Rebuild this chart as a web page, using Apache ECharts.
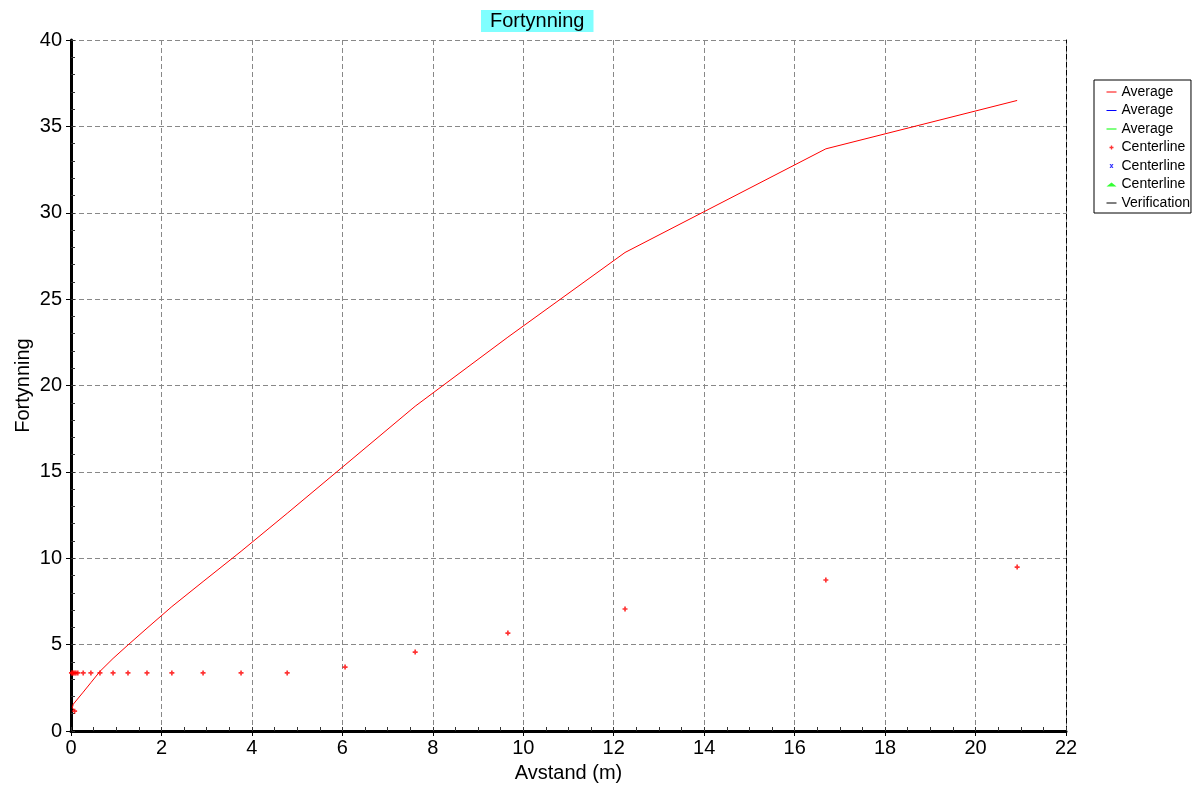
<!DOCTYPE html>
<html>
<head>
<meta charset="utf-8">
<script src="https://cdn.jsdelivr.net/npm/echarts@6/dist/echarts.min.js"></script>
<style>html,body{margin:0;padding:0;background:#fff;}#c{width:1204px;height:787px;}</style>
</head>
<body>
<div id="c"></div>
<script>
// Average (red line) vertices
const avgX = [0.08, 0.03, 0.05, 0.27, 0.44, 0.64, 0.93, 1.26, 1.68, 2.23, 2.92, 3.76, 4.78, 6.06, 7.61, 9.66, 12.25, 16.69, 20.92];
const avgY = [1.15, 1.35, 1.55, 2.25, 2.8, 3.45, 4.2, 4.98, 5.95, 7.2, 8.65, 10.4, 12.6, 15.4, 18.8, 22.8, 27.7, 33.7, 36.5];
// Centerline (red markers)
const clX = [0.08, 0.01, 0.03, 0.05, 0.08, 0.11, 0.15, 0.27, 0.44, 0.64, 0.93, 1.26, 1.68, 2.23, 2.92, 3.76, 4.78, 6.06, 7.61, 9.66, 12.25, 16.69, 20.92];
const clY = [1.15, 3.36, 3.36, 3.36, 3.36, 3.36, 3.36, 3.36, 3.36, 3.36, 3.36, 3.36, 3.36, 3.36, 3.36, 3.36, 3.36, 3.70, 4.57, 5.67, 7.06, 8.74, 9.49];
const xTicks = {min: 0, max: 22, interval: 2, minor: 0.5};
const yTicks = {min: 0, max: 40, interval: 5, minor: 1};
const legendNames = ['Average', 'Average\u200b', 'Average\u200b\u200b', 'Centerline', 'Centerline\u200b', 'Centerline\u200b\u200b', 'Verification'];
const lineSeriesNames = [legendNames[0], legendNames[1], legendNames[2], legendNames[6]];

const avgData = avgX.map((x, i) => [x, avgY[i]]);
const clData = clX.map((x, i) => [x, clY[i]]);

const FONT = 'Liberation Sans, Arial, sans-serif';
const plusPath = 'path://M1,0h1v1h1v1h-1v1h-1v-1h-1v-1h1z';
const crossPath = 'path://M0,0h1l0.5,0.8l0.5,-0.8h1l-1,1.5l1,1.5h-1l-0.5,-0.8l-0.5,0.8h-1l1,-1.5z';
const gridLine = {show: true, lineStyle: {color: '#888888', type: [5, 3], width: 1}};

const legendData = legendNames.map(n => lineSeriesNames.includes(n)
  ? {name: n, itemStyle: {color: 'rgba(0,0,0,0)', opacity: 0, borderWidth: 0}}
  : {name: n});

const chart = echarts.init(document.getElementById('c'), null, {renderer: 'canvas'});
chart.setOption({
  animation: false,
  backgroundColor: '#fff',
  textStyle: {fontFamily: FONT},
  title: {
    text: 'Fortynning', left: 481, top: 10,
    padding: [0, 9, 0, 9],
    backgroundColor: '#80ffff',
    textStyle: {fontSize: 20, lineHeight: 22, fontWeight: 'normal', color: '#000', fontFamily: FONT}
  },
  legend: {
    orient: 'vertical', left: 1094, top: 80,
    padding: [4, 1, 2, 12],
    itemWidth: 10, itemHeight: 4, itemGap: 2.5,
    borderColor: '#000', borderWidth: 1, backgroundColor: '#fff',
    lineStyle: {width: 1},
    data: legendData,
    formatter: n => n.replace(/\u200b/g, ''),
    textStyle: {fontSize: 14, color: '#000', lineHeight: 16, fontFamily: FONT}
  },
  grid: {left: 71, top: 40, right: 138, bottom: 56, containLabel: false, outerBoundsMode: 'none'},
  xAxis: [
    {
      type: 'value', position: 'bottom', min: xTicks.min, max: xTicks.max, interval: xTicks.interval,
      name: 'Avstand (m)', nameLocation: 'middle', nameGap: 32, nameMoveOverlap: false,
      nameTextStyle: {fontSize: 20, color: '#000', fontFamily: FONT},
      axisLine: {show: true, lineStyle: {color: '#000', width: 3}},
      axisTick: {show: true, inside: false, length: 5, lineStyle: {color: '#000', width: 1}},
      axisLabel: {fontSize: 20, color: '#000', margin: 7, fontFamily: FONT},
      splitLine: gridLine
    },
    {
      type: 'value', position: 'bottom', min: xTicks.min, max: xTicks.max, interval: xTicks.minor,
      axisLine: {show: false},
      axisTick: {show: true, inside: true, length: 4, lineStyle: {color: '#333', width: 1}},
      axisLabel: {show: false}, splitLine: {show: false}
    }
  ],
  yAxis: [
    {
      type: 'value', position: 'left', min: yTicks.min, max: yTicks.max, interval: yTicks.interval,
      name: 'Fortynning', nameLocation: 'middle', nameGap: 38, nameMoveOverlap: false,
      nameTextStyle: {fontSize: 20, color: '#000', fontFamily: FONT},
      axisLine: {show: true, lineStyle: {color: '#000', width: 3}},
      axisTick: {show: true, inside: false, length: 5, lineStyle: {color: '#000', width: 1}},
      axisLabel: {fontSize: 20, color: '#000', margin: 9, fontFamily: FONT},
      splitLine: gridLine
    },
    {
      type: 'value', position: 'left', min: yTicks.min, max: yTicks.max, interval: yTicks.minor,
      axisLine: {show: false},
      axisTick: {show: true, inside: true, length: 4, lineStyle: {color: '#333', width: 1}},
      axisLabel: {show: false}, splitLine: {show: false}
    },
    {
      type: 'value', position: 'right', min: yTicks.min, max: yTicks.max, interval: yTicks.interval,
      axisLine: {show: true, lineStyle: {color: '#000', width: 1, type: [5, 3]}},
      axisTick: {show: false}, axisLabel: {show: false}, splitLine: {show: false}
    }
  ],
  series: [
    {name: legendNames[0], type: 'line', data: avgData, symbol: 'none', color: '#ff0000', lineStyle: {color: '#ff0000', width: 1}, z: 3},
    {name: legendNames[1], type: 'line', data: [], symbol: 'none', color: '#0000ff', lineStyle: {color: '#0000ff', width: 1}},
    {name: legendNames[2], type: 'line', data: [], symbol: 'none', color: '#00ff00', lineStyle: {color: '#00ff00', width: 1}},
    {name: legendNames[3], type: 'scatter', data: clData, symbol: plusPath, symbolSize: 5, symbolKeepAspect: true, color: '#ff0000', itemStyle: {color: '#ff0000'}, z: 4},
    {name: legendNames[4], type: 'scatter', data: [], symbol: crossPath, symbolSize: 5, symbolKeepAspect: true, color: '#0000ff', itemStyle: {color: '#0000ff'}},
    {name: legendNames[5], type: 'scatter', data: [], symbol: 'triangle', symbolSize: 5, symbolKeepAspect: true, color: '#00ff00', itemStyle: {color: '#00ff00'}},
    {name: legendNames[6], type: 'line', data: [], symbol: 'none', color: '#000000', lineStyle: {color: '#000', width: 1}}
  ]
});
</script>
</body>
</html>
